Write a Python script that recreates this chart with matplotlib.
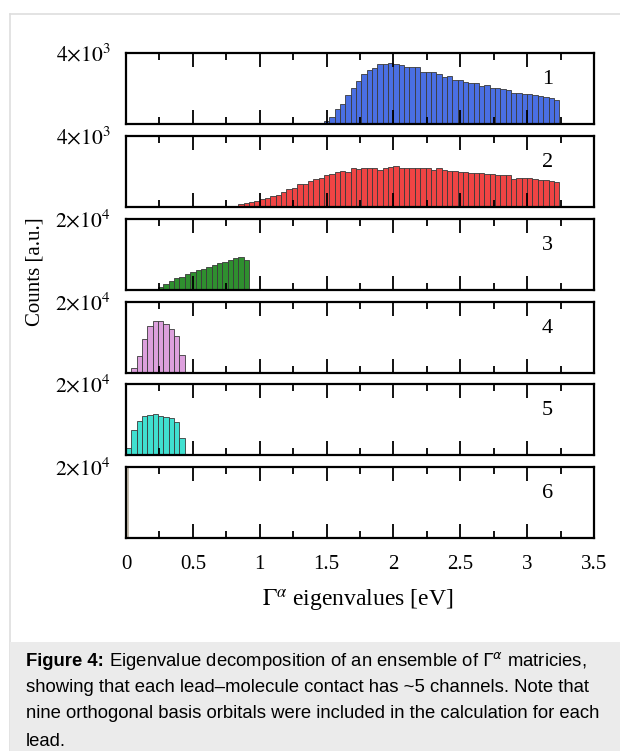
import numpy as np
import matplotlib
matplotlib.use("Agg")
import matplotlib.pyplot as plt
from matplotlib.patches import Rectangle
from matplotlib.lines import Line2D
from matplotlib.text import Annotation

# ---------------------------------------------------------------- data
lead_names = ["1", "2", "3", "4", "5", "6"]
bin_width = [0.04, 0.04, 0.04, 0.04, 0.04, 0.02]
bin_start = [1.44, 0.76, 0.20, 0.04, 0.00, 0.00]

lead1_counts = [75, 190, 415, 830, 1130, 1660, 2020, 2400, 2790, 3060,
                3170, 3380, 3380, 3415, 3360, 3300, 3190, 3190, 3225, 2905,
                2945, 2905, 2810, 2620, 2700, 2490, 2455, 2360, 2300, 2285,
                2115, 2210, 2055, 2020, 1960, 1890, 1755, 1735, 1715, 1715,
                1660, 1585, 1530, 1470, 1360]
lead2_counts = [56, 75, 150, 205, 260, 335, 430, 485, 600, 675,
                860, 1010, 1045, 1270, 1290, 1460, 1605, 1645, 1815, 1870,
                1945, 2035, 1980, 2205, 2130, 2170, 2170, 2185, 2110, 2225,
                2245, 2320, 2205, 2185, 2205, 2205, 2185, 2170, 2110, 2185,
                2110, 2035, 2020, 1980, 1945, 1925, 1925, 1905, 1850, 1850,
                1795, 1775, 1775, 1590, 1645, 1645, 1645, 1605, 1515, 1515,
                1475, 1385]
lead3_counts = [283, 943, 1790, 2450, 3300, 3775, 4530, 5095, 5660, 5945,
                6510, 7075, 7640, 8020, 8490, 9150, 9340, 8585]
lead4_counts = [1510, 4810, 9620, 13300, 14720, 14720, 13775, 12265, 10470, 5095]
lead5_counts = [1890, 7170, 9715, 10945, 11225, 11415, 11040, 10660, 10375, 9435, 4905]
lead6_counts = [100000]

all_counts = [lead1_counts, lead2_counts, lead3_counts,
              lead4_counts, lead5_counts, lead6_counts]
y_max = [4000, 4000, 20000, 20000, 20000, 20000]
y_max_labels = [r"$4{\times}10^{3}$", r"$4{\times}10^{3}$", r"$2{\times}10^{4}$",
                r"$2{\times}10^{4}$", r"$2{\times}10^{4}$", r"$2{\times}10^{4}$"]
bar_colors = ["#4a6fe3", "#f04444", "#2f8f2f", "#dda0dd", "#40e0d0", "#c4bcae"]

x_ticks = [0, 0.5, 1, 1.5, 2, 2.5, 3, 3.5]
x_ticklabels = ["0", "0.5", "1", "1.5", "2", "2.5", "3", "3.5"]

caption_lines = [
    r"Eigenvalue decomposition of an ensemble of $\Gamma^{\alpha}$ matricies,",
    "showing that each lead\u2013molecule contact has ~5 channels. Note that",
    "nine orthogonal basis orbitals were included in the calculation for each",
    "lead.",
]

# ---------------------------------------------------------------- figure
W, H = 620, 751
fig = plt.figure(figsize=(W / 100, H / 100), dpi=100)
fig.patch.set_facecolor("white")

serif = ["Liberation Serif", "DejaVu Serif"]
sans = ["Liberation Sans", "DejaVu Sans"]
plt.rcParams["mathtext.fontset"] = "stix"


def px(x, y):
    # pixel coords (top-left origin) -> figure fraction
    return x / W, 1 - y / H


# page frame + caption box
fig.add_artist(Line2D([10 / W, 1], [1 - 14 / H, 1 - 14 / H], color="#dedede", lw=1.2, zorder=-2))
fig.add_artist(Line2D([10 / W, 10 / W], [0, 1 - 14 / H], color="#dedede", lw=1.2, zorder=-2))
fig.add_artist(Rectangle((10 / W, 0), 1 - 10 / W, 109 / H, color="#ebebeb", lw=0, zorder=-1))

left, right = 126, 594
panel_top = [53, 136, 219, 302, 384, 467]
panel_h = 71

for i in range(6):
    l, b = px(left, panel_top[i] + panel_h)
    ax = fig.add_axes([l, b, (right - left) / W, panel_h / H])
    counts = np.array(all_counts[i])
    edges = bin_start[i] + bin_width[i] * np.arange(len(counts))
    ax.bar(edges, counts, width=bin_width[i], align="edge", color=bar_colors[i],
           edgecolor="#3a3a3a", linewidth=0.6 if i < 5 else 0)
    ax.set_xlim(0, 3.5)
    ax.set_ylim(0, y_max[i])
    ax.set_xticks(x_ticks)
    ax.set_xticks(np.arange(0.25, 3.5, 0.5), minor=True)
    ax.tick_params(axis="x", which="both", direction="in", top=True, bottom=True,
                   width=1.3, color="black")
    ax.tick_params(axis="x", which="major", length=10)
    ax.tick_params(axis="x", which="minor", length=5)
    ax.set_yticks([y_max[i]])
    ax.set_yticklabels([y_max_labels[i]], fontsize=15.5, family=serif)
    ax.tick_params(axis="y", length=0, pad=11)
    for s in ax.spines.values():
        s.set_linewidth(1.6)
    ax.text(0.9, 0.62, lead_names[i], transform=ax.transAxes, fontsize=16,
            family=serif, ha="center", va="center")
    if i < 5:
        ax.set_xticklabels([])
    else:
        ax.set_xticklabels(x_ticklabels, fontsize=15, family=serif)
        ax.tick_params(axis="x", which="major", pad=12)

fig.text(*px(35, 272), "Counts [a.u.]", rotation=90, fontsize=15, family=serif,
         ha="center", va="center")
fig.text(*px(358, 601), r"$\Gamma^{\alpha}$ eigenvalues [eV]", fontsize=17,
         family=serif, ha="center", va="center")

# caption
cap_size = 13.3
line_y = [661, 688, 714, 741]
head = fig.text(*px(26, line_y[0]), "Figure 4:", fontsize=cap_size, family=sans,
                weight="bold", ha="left", va="center")
rest = Annotation(" " + caption_lines[0], xy=(1, 0.5), xycoords=head,
                  fontsize=cap_size, family=sans, ha="left", va="center",
                  math_fontfamily="dejavusans", annotation_clip=False)
fig.add_artist(rest)
for k in range(1, 4):
    fig.text(*px(26, line_y[k]), caption_lines[k], fontsize=cap_size, family=sans,
             ha="left", va="center")

fig.savefig("out.png", dpi=100)
